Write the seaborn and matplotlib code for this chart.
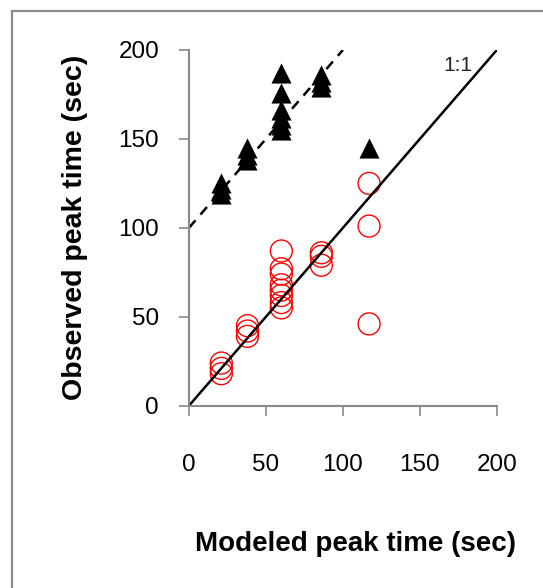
import matplotlib
matplotlib.use("Agg")
import matplotlib.pyplot as plt
import seaborn as sns
import pandas as pd
from matplotlib.patches import Rectangle

# observed (shifted) peak times - triangles
tri_x = [21, 21, 21, 38, 38, 38, 60, 60, 60, 60, 60, 60, 86, 86, 86, 117]
tri_y = [125, 122, 119, 145, 141, 138, 187, 176, 166, 162, 158, 155, 186, 182, 179, 145]

# observed peak times - circles
circ_x = [21, 21, 21, 38, 38, 38, 60, 60, 60, 60, 60, 60, 60, 60, 86, 86, 86, 117, 117, 117]
circ_y = [24, 21, 18, 45, 42, 39, 87, 77, 74, 68, 65, 62, 58, 55, 86, 84, 79, 125, 101, 46]

# reference lines
one_x = [0, 200]
one_y = [0, 200]
dash_x = [0, 100]
dash_y = [100, 200]

ticks = [0, 50, 100, 150, 200]

sns.set_theme(style="white")
plt.rcParams['font.family'] = ['Liberation Sans', 'DejaVu Sans']

fig = plt.figure(figsize=(5.43, 5.88), dpi=100)
ax = fig.add_axes([0.348, 0.310, 0.567, 0.605])

grey = "#8a8a8a"
# outer chart-area frame (runs off the right and bottom edges)
fig.patches.append(Rectangle((12 / 543, -0.1), 1.2, 1.1 - 11 / 588,
                             transform=fig.transFigure, fill=False,
                             edgecolor=grey, linewidth=1.6))

tri_df = pd.DataFrame({"x": tri_x, "y": tri_y})
circ_df = pd.DataFrame({"x": circ_x, "y": circ_y})

sns.lineplot(x=one_x, y=one_y, ax=ax, color="black", linewidth=1.8)
sns.lineplot(x=dash_x, y=dash_y, ax=ax, color="black", linewidth=1.8,
             linestyle=(0, (4, 3)))
sns.scatterplot(data=circ_df, x="x", y="y", ax=ax, marker="o", s=250,
                facecolor="none", edgecolor="red", linewidth=1.0)
sns.scatterplot(data=tri_df, x="x", y="y", ax=ax, marker="^", s=210,
                color="black", edgecolor="black", linewidth=0)

ax.text(174.5, 191, "1:1", fontsize=15, ha="center", va="center", color="#222222")

ax.set_xlim(0, 200)
ax.set_ylim(0, 200)
ax.set_xticks(ticks)
ax.set_yticks(ticks)
ax.set_xlabel("Modeled peak time (sec)", fontsize=20, fontweight="bold",
              labelpad=40, color="black")
ax.set_ylabel("Observed peak time (sec)", fontsize=20.5, fontweight="bold",
              labelpad=22, color="black")
ax.xaxis.label.set_x(0.54)

for s in ["top", "right"]:
    ax.spines[s].set_visible(False)
for s in ["left", "bottom"]:
    ax.spines[s].set_color(grey)
    ax.spines[s].set_linewidth(1.5)
ax.tick_params(axis="both", colors=grey, labelcolor="black", labelsize=17.5,
               length=7.5, width=1.2, direction="out")
ax.tick_params(axis="x", bottom=True, pad=27)
ax.tick_params(axis="y", left=True, pad=14)
for c in ax.collections:
    c.set_clip_on(False)

fig.savefig("out.png", dpi=100)
